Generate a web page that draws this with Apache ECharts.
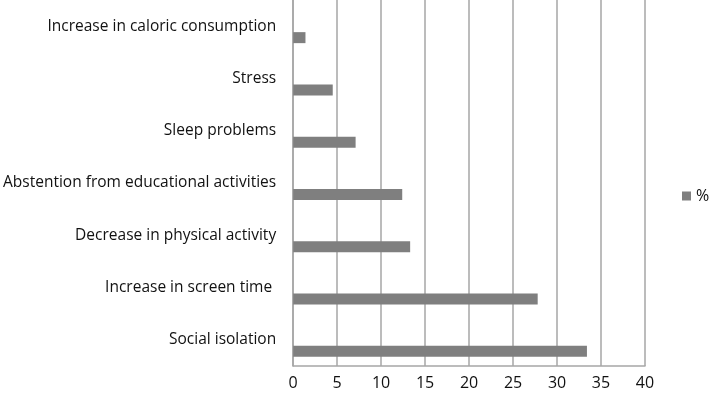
<!DOCTYPE html>
<html>
<head>
<meta charset="utf-8">
<script src="https://cdn.jsdelivr.net/npm/echarts@6/dist/echarts.min.js"></script>
<style>html,body{margin:0;padding:0;background:#fff}#c{width:709px;height:400px}</style>
</head>
<body>
<div id="c"></div>
<script>
const categories = ["Social isolation", "Increase in screen time ", "Decrease in physical activity", "Abstention from educational activities", "Sleep problems", "Stress", "Increase in caloric consumption"];
const values = [33.4, 27.8, 13.3, 12.4, 7.1, 4.5, 1.4];
const seriesName = "%";
const xTicks = [0, 5, 10, 15, 20, 25, 30, 35, 40];

const chart = echarts.init(document.getElementById('c'), null, {renderer: 'canvas'});
const font = "'Open Sans', sans-serif";
chart.setOption({
  animation: false,
  backgroundColor: '#fff',
  grid: {left: 292, right: 64, top: 0, bottom: 34},
  legend: {
    data: [seriesName],
    orient: 'vertical',
    left: 677, top: 183,
    itemWidth: 9, itemHeight: 9, itemGap: 4,
    icon: 'rect',
    textStyle: {fontFamily: font, fontSize: 16, color: '#111'}
  },
  xAxis: {
    type: 'value', min: xTicks[0], max: xTicks[xTicks.length-1], interval: 5,
    axisLine: {show: true, lineStyle: {color: '#a6a6a6', width: 1.5}},
    axisTick: {show: false},
    splitLine: {show: true, lineStyle: {color: '#a6a6a6', width: 1.5}},
    axisLabel: {fontFamily: font, fontSize: 16, color: '#111', margin: 9}
  },
  yAxis: {
    type: 'category', data: categories,
    axisLine: {show: true, lineStyle: {color: '#a6a6a6', width: 1.5}},
    axisTick: {show: false},
    axisLabel: {fontFamily: font, fontSize: 15.5, color: '#111', margin: 17}
  },
  series: [
    {name: '_blank', type: 'bar', data: values.map(() => null), barWidth: 11, barGap: '109%'},
    {name: seriesName, type: 'bar', data: values, barWidth: 11, barGap: '109%',
     itemStyle: {color: '#7f7f7f'}}
  ]
});
</script>
</body>
</html>
